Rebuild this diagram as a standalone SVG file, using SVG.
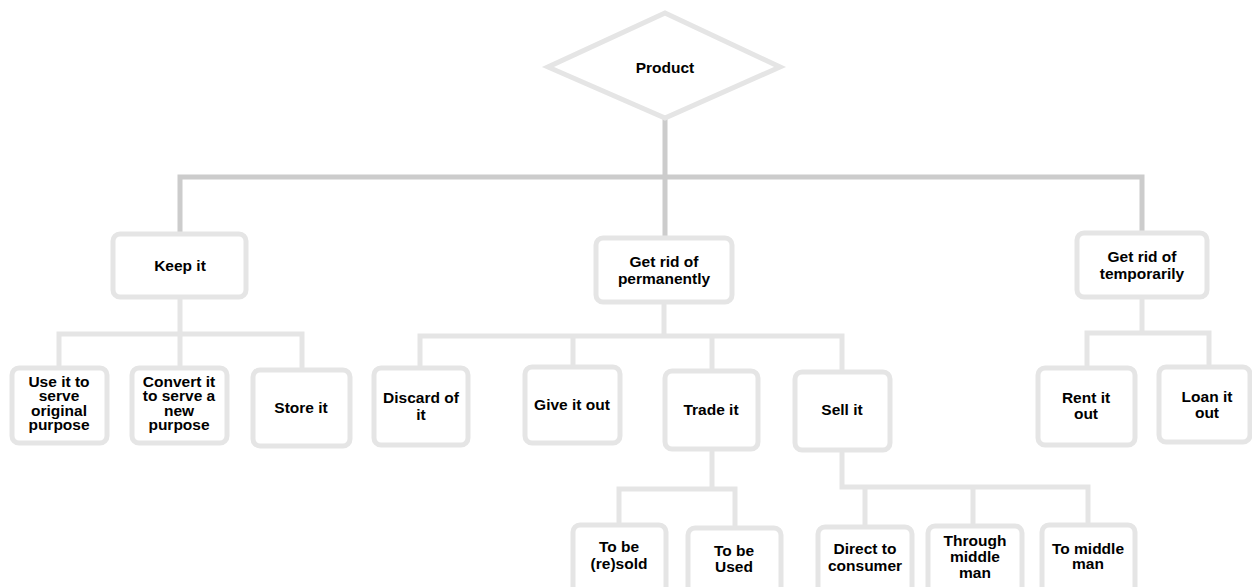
<svg xmlns="http://www.w3.org/2000/svg" width="1252" height="587" viewBox="0 0 1252 587">
<style>
.box{fill:#fff;stroke:#e5e5e5;stroke-width:5}
.t{font-family:"Liberation Sans",Arial,sans-serif;font-weight:bold;font-size:15.5px;fill:#000;text-anchor:middle}
.c1{fill:none;stroke:#cccccc;stroke-width:5}
.c2{fill:none;stroke:#e5e5e5;stroke-width:5}
</style>
<rect width="1252" height="587" fill="#fff"/>
<g id="connectors">
<path class="c1" d="M665 118V177M180 234V177H1142V233M665 177V238"/>
<path class="c2" d="M180 297V334M59 368V334H302V370M180 334V368"/>
<path class="c2" d="M664 302V336M420 368V336H842V372M573 336V367M712 336V371"/>
<path class="c2" d="M712 449V489M619 525V489H735V528"/>
<path class="c2" d="M842 450V487H1088V525M865 487V527M973 487V526"/>
<path class="c2" d="M1142 297V333M1087 368V333H1209V367"/>
</g>
<g id="product"><polygon class="box" points="665,13 780,67 665,118 548,67" stroke="#e3e3e3"/><text class="t" x="665" y="73">Product</text></g>
<g id="keep"><rect class="box" x="113" y="234" width="133" height="63" rx="7"/><text class="t" x="180" y="271">Keep it</text></g>
<g id="perm"><rect class="box" x="596" y="238" width="136" height="64" rx="7"/><text class="t" x="664" y="267">Get rid of</text><text class="t" x="664" y="284">permanently</text></g>
<g id="temp"><rect class="box" x="1077" y="233" width="130" height="64" rx="7"/><text class="t" x="1142" y="262">Get rid of</text><text class="t" x="1142" y="279">temporarily</text></g>
<g id="use"><rect class="box" x="12" y="368" width="95" height="75" rx="7"/><text class="t" x="59" y="387">Use it to</text><text class="t" x="59" y="401">serve</text><text class="t" x="59" y="416">original</text><text class="t" x="59" y="430">purpose</text></g>
<g id="convert"><rect class="box" x="132" y="368" width="95" height="75" rx="7"/><text class="t" x="179" y="387">Convert it</text><text class="t" x="179" y="401">to serve a</text><text class="t" x="179" y="416">new</text><text class="t" x="179" y="430">purpose</text></g>
<g id="store"><rect class="box" x="253" y="370" width="97" height="76" rx="7"/><text class="t" x="301" y="413">Store it</text></g>
<g id="discard"><rect class="box" x="374" y="368" width="94" height="77" rx="7"/><text class="t" x="421" y="403">Discard of</text><text class="t" x="421" y="420">it</text></g>
<g id="give"><rect class="box" x="525" y="367" width="95" height="76" rx="7"/><text class="t" x="572" y="410">Give it out</text></g>
<g id="trade"><rect class="box" x="665" y="371" width="93" height="78" rx="7"/><text class="t" x="711" y="415">Trade it</text></g>
<g id="sell"><rect class="box" x="795" y="372" width="95" height="78" rx="7"/><text class="t" x="842" y="415">Sell it</text></g>
<g id="rent"><rect class="box" x="1038" y="368" width="97" height="77" rx="7"/><text class="t" x="1086" y="403">Rent it</text><text class="t" x="1086" y="419">out</text></g>
<g id="loan"><rect class="box" x="1159" y="367" width="91" height="75" rx="7"/><text class="t" x="1207" y="402">Loan it</text><text class="t" x="1207" y="418">out</text></g>
<g id="resold"><rect class="box" x="573" y="525" width="93" height="70" rx="7"/><text class="t" x="619" y="552">To be</text><text class="t" x="619" y="569">(re)sold</text></g>
<g id="used"><rect class="box" x="688" y="528" width="93" height="70" rx="7"/><text class="t" x="734" y="556">To be</text><text class="t" x="734" y="572">Used</text></g>
<g id="direct"><rect class="box" x="818" y="527" width="94" height="70" rx="7"/><text class="t" x="865" y="554">Direct to</text><text class="t" x="865" y="571">consumer</text></g>
<g id="through"><rect class="box" x="928" y="526" width="94" height="70" rx="7"/><text class="t" x="975" y="546">Through</text><text class="t" x="975" y="562">middle</text><text class="t" x="975" y="578">man</text></g>
<g id="tomiddle"><rect class="box" x="1042" y="525" width="93" height="70" rx="7"/><text class="t" x="1088" y="554">To middle</text><text class="t" x="1088" y="569">man</text></g>
</svg>
